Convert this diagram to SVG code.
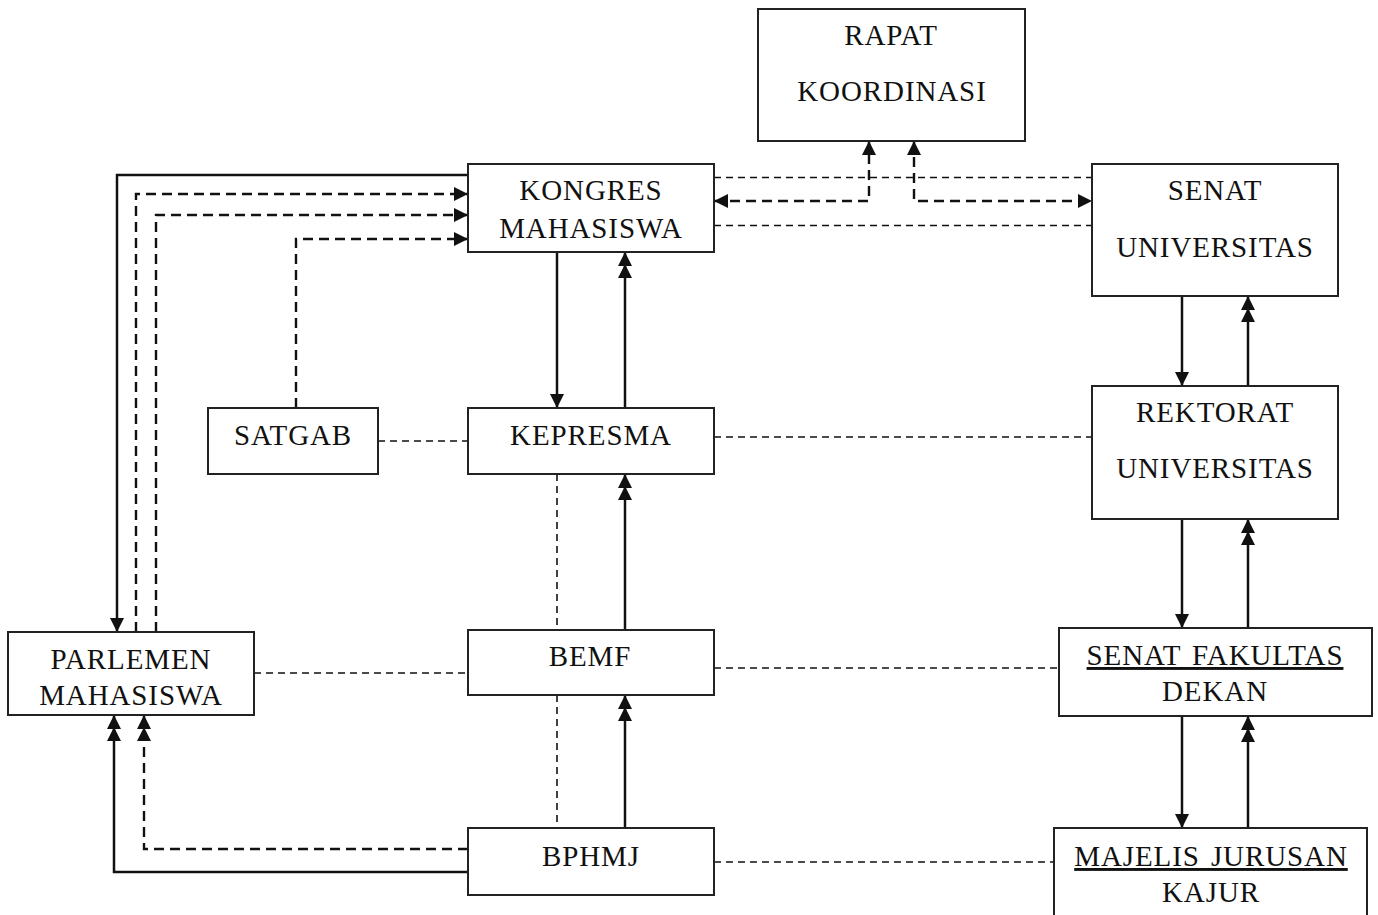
<svg xmlns="http://www.w3.org/2000/svg" width="1378" height="915" viewBox="0 0 1378 915">
  <style>
    .box { fill: #fff; stroke: #222; stroke-width: 2; }
    .lbl { font-family: "Liberation Serif", "Times New Roman", serif; font-size: 29px; letter-spacing: 0.9px; word-spacing: 3px; fill: #111; text-anchor: middle; }
    .u { text-decoration: underline; }
    .solid { fill: none; stroke: #111; stroke-width: 2.5; }
    .dash { fill: none; stroke: #111; stroke-width: 1.6; stroke-dasharray: 7 5; }
    .dashb { fill: none; stroke: #111; stroke-width: 2.4; stroke-dasharray: 10 6; }
  </style>
  <defs>
    <marker id="ah" markerUnits="userSpaceOnUse" viewBox="0 0 14 14" refX="14" refY="7" markerWidth="14" markerHeight="14" orient="auto-start-reverse">
      <path d="M0,0 L14,7 L0,14 Z" fill="#111"/>
    </marker>
    <marker id="ah2" markerUnits="userSpaceOnUse" viewBox="0 0 26 14" refX="26" refY="7" markerWidth="26" markerHeight="14" orient="auto">
      <path d="M0,0 L14,7 L0,14 Z M12,0 L26,7 L12,14 Z" fill="#111"/>
    </marker>
  </defs>

  <g id="connectors">
    <!-- central column -->
    <path class="solid" d="M557,252 V408" marker-end="url(#ah)"/>
    <path class="solid" d="M625,408 V252" marker-end="url(#ah2)"/>
    <path class="dash" d="M557,474 V630"/>
    <path class="solid" d="M625,630 V474" marker-end="url(#ah2)"/>
    <path class="dash" d="M557,695 V828"/>
    <path class="solid" d="M625,828 V695" marker-end="url(#ah2)"/>
    <!-- right column -->
    <path class="solid" d="M1182,296 V386" marker-end="url(#ah)"/>
    <path class="solid" d="M1248,386 V296" marker-end="url(#ah2)"/>
    <path class="solid" d="M1182,519 V628" marker-end="url(#ah)"/>
    <path class="solid" d="M1248,628 V519" marker-end="url(#ah2)"/>
    <path class="solid" d="M1182,716 V828" marker-end="url(#ah)"/>
    <path class="solid" d="M1248,828 V716" marker-end="url(#ah2)"/>
    <!-- horizontal links -->
    <path class="dash" d="M714,177.5 H1092"/>
    <path class="dash" d="M714,225.5 H1092"/>
    <path class="dash" d="M378,441 H468"/>
    <path class="dash" d="M714,437 H1092"/>
    <path class="dash" d="M254,673 H468"/>
    <path class="dash" d="M714,668 H1059"/>
    <path class="dash" d="M714,862 H1054"/>
    <!-- rapat koordinasi -->
    <path class="dashb" d="M714,201 H869 V141" marker-start="url(#ah)" marker-end="url(#ah)"/>
    <path class="dashb" d="M914,141 V201 H1092" marker-start="url(#ah)" marker-end="url(#ah)"/>
    <!-- left side to kongres -->
    <path class="solid" d="M468,175 H117 V632" marker-end="url(#ah)"/>
    <path class="dashb" d="M136,632 V194 H468" marker-end="url(#ah)"/>
    <path class="dashb" d="M156,632 V215 H468" marker-end="url(#ah)"/>
    <path class="dashb" d="M296,408 V239 H468" marker-end="url(#ah)"/>
    <!-- bphmj to parlemen -->
    <path class="dashb" d="M468,849 H144 V715" marker-end="url(#ah2)"/>
    <path class="solid" d="M468,872 H114 V715" marker-end="url(#ah2)"/>
  </g>

  <g id="rapat">
    <rect class="box" x="758" y="9" width="267" height="132"/>
    <text class="lbl" x="891" y="45">RAPAT</text>
    <text class="lbl" x="892" y="101">KOORDINASI</text>
  </g>
  <g id="kongres">
    <rect class="box" x="468" y="164" width="246" height="88"/>
    <text class="lbl" x="591" y="200">KONGRES</text>
    <text class="lbl" x="591" y="238">MAHASISWA</text>
  </g>
  <g id="senat-univ">
    <rect class="box" x="1092" y="164" width="246" height="132"/>
    <text class="lbl" x="1215" y="200">SENAT</text>
    <text class="lbl" x="1215" y="257">UNIVERSITAS</text>
  </g>
  <g id="satgab">
    <rect class="box" x="208" y="408" width="170" height="66"/>
    <text class="lbl" x="293" y="445">SATGAB</text>
  </g>
  <g id="kepresma">
    <rect class="box" x="468" y="408" width="246" height="66"/>
    <text class="lbl" x="591" y="445">KEPRESMA</text>
  </g>
  <g id="rektorat">
    <rect class="box" x="1092" y="386" width="246" height="133"/>
    <text class="lbl" x="1215" y="422">REKTORAT</text>
    <text class="lbl" x="1215" y="478">UNIVERSITAS</text>
  </g>
  <g id="parlemen">
    <rect class="box" x="8" y="632" width="246" height="83"/>
    <text class="lbl" x="131" y="669">PARLEMEN</text>
    <text class="lbl" x="131" y="705">MAHASISWA</text>
  </g>
  <g id="bemf">
    <rect class="box" x="468" y="630" width="246" height="65"/>
    <text class="lbl" x="590" y="666">BEMF</text>
  </g>
  <g id="senat-fakultas">
    <rect class="box" x="1059" y="628" width="313" height="88"/>
    <text class="lbl u" x="1215" y="665">SENAT FAKULTAS</text>
    <text class="lbl" x="1215" y="701">DEKAN</text>
  </g>
  <g id="bphmj">
    <rect class="box" x="468" y="828" width="246" height="67"/>
    <text class="lbl" x="591" y="866">BPHMJ</text>
  </g>
  <g id="majelis">
    <rect class="box" x="1054" y="828" width="313" height="95"/>
    <text class="lbl u" x="1211" y="866">MAJELIS JURUSAN</text>
    <text class="lbl" x="1211" y="902">KAJUR</text>
  </g>
</svg>
